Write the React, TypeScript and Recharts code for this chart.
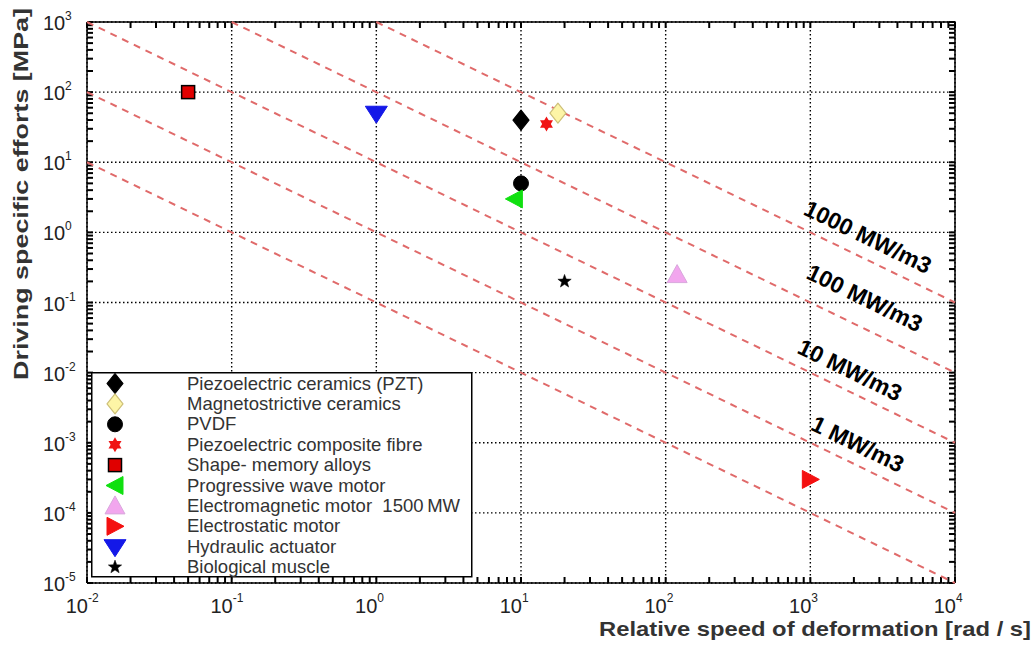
import React from "react";
import { ScatterChart, Scatter, XAxis, YAxis, CartesianGrid } from "recharts";

/* axis decades and minor ticks */
const X_DECADES = [0.01, 0.1, 1, 10, 100, 1000, 10000];
const Y_DECADES = [1e-5, 1e-4, 1e-3, 1e-2, 1e-1, 1, 10, 100, 1000];
const MINOR_STEPS = [1, 2, 3, 4, 5, 6, 7, 8, 9];
const minorTicks = (decs: number[]) =>
  decs.slice(0, -1).flatMap((d) => MINOR_STEPS.map((m) => m * d)).concat(decs[decs.length - 1]);
const X_MINOR = minorTicks(X_DECADES);
const Y_MINOR = minorTicks(Y_DECADES);

/* materials: speed [rad/s] vs specific effort [MPa] */
const MATERIALS = [
  "Piezoelectric ceramics (PZT)",
  "Magnetostrictive ceramics",
  "PVDF",
  "Piezoelectric composite fibre",
  "Shape- memory alloys",
  "Progressive wave motor",
  "Electromagnetic motor\u00a0 1500\u2009MW",
  "Electrostatic motor",
  "Hydraulic actuator",
  "Biological muscle",
];
const SPEED = [10, 18, 10, 15, 0.05, 9, 120, 1000, 1, 20];
const EFFORT = [40, 50, 5, 35, 100, 3, 0.25, 0.0003, 50, 0.2];

/* iso-power lines (MW/m3) — end points */
const POWER_LABELS = ["1000 MW/m3", "100 MW/m3", "10 MW/m3", "1 MW/m3", ""];
const LINE_X0 = [1, 0.1, 0.01, 0.01, 0.01];
const LINE_Y0 = [1000, 1000, 1000, 100, 10];
const LINE_X1 = [10000, 10000, 10000, 10000, 10000];
const LINE_Y1 = [0.1, 0.01, 0.001, 0.0001, 0.00001];
const LABEL_X = [2500, 2380, 1880, 2130];
const LABEL_Y = [0.86, 0.116, 0.0109, 0.00096];

const MARKER_STYLE = [
  { kind: "diamond", fill: "#000", stroke: "#000" },
  { kind: "diamond", fill: "#fdf5a6", stroke: "#cdbf78" },
  { kind: "circle", fill: "#000", stroke: "#000" },
  { kind: "hexagram", fill: "#f01414", stroke: "#f01414" },
  { kind: "square", fill: "#e00000", stroke: "#000" },
  { kind: "triLeft", fill: "#10e010", stroke: "#10e010" },
  { kind: "triUp", fill: "#f2a6ee", stroke: "#d8a8dc" },
  { kind: "triRight", fill: "#f41010", stroke: "#f41010" },
  { kind: "triDown", fill: "#1418e8", stroke: "#1418e8" },
  { kind: "star", fill: "#000", stroke: "#000" },
];

const FONT = '"Liberation Sans", Arial, Helvetica, sans-serif';
const LINE_RED = "#e06a6a";
const X_MIN = X_DECADES[0];
const X_MAX = X_DECADES[X_DECADES.length - 1];
const Y_MIN = Y_DECADES[0];
const Y_MAX = Y_DECADES[Y_DECADES.length - 1];

/* series tables built once from the arrays above */
const LINES = POWER_LABELS.map((_, i) => [
  { x: LINE_X0[i], y: LINE_Y0[i] },
  { x: LINE_X1[i], y: LINE_Y1[i] },
]);
const LABELS = LABEL_X.map((x, i) => ({ x, y: LABEL_Y[i], text: POWER_LABELS[i] }));
const POINTS = MATERIALS.map((_, i) => [{ x: SPEED[i], y: EFFORT[i] }]);
const FRAME = [
  { x: X_MIN, y: Y_MAX },
  { x: X_MAX, y: Y_MAX },
  { x: X_MAX, y: Y_MIN },
];
const TICKS_BOTTOM = X_MINOR.map((x) => ({ x, y: Y_MIN }));
const TICKS_TOP = X_MINOR.map((x) => ({ x, y: Y_MAX }));
const TICKS_LEFT = Y_MINOR.map((y) => ({ x: X_MIN, y }));
const TICKS_RIGHT = Y_MINOR.map((y) => ({ x: X_MAX, y }));

const pts = (arr: number[][]) => arr.map((p) => p.join(",")).join(" ");

function Marker({ kind, cx, cy, fill, stroke }: any) {
  switch (kind) {
    case "diamond":
      return <polygon points={pts([[cx, cy - 10], [cx + 8, cy], [cx, cy + 10], [cx - 8, cy]])} fill={fill} stroke={stroke} strokeWidth={1.2} strokeLinejoin="round" />;
    case "circle":
      return <circle cx={cx} cy={cy} r={7.5} fill={fill} stroke={stroke} />;
    case "hexagram": {
      const r = 7.5;
      const tri = (a0: number) =>
        [0, 120, 240].map((a) => [cx + r * Math.cos(((a + a0) * Math.PI) / 180), cy + r * Math.sin(((a + a0) * Math.PI) / 180)]);
      return (
        <g fill={fill}>
          <polygon points={pts(tri(-90))} />
          <polygon points={pts(tri(90))} />
        </g>
      );
    }
    case "square":
      return <rect x={cx - 6.5} y={cy - 6.5} width={13} height={13} fill={fill} stroke={stroke} strokeWidth={1.5} />;
    case "triLeft":
      return <polygon points={pts([[cx - 9, cy], [cx + 8, cy - 9], [cx + 8, cy + 9]])} fill={fill} stroke={stroke} />;
    case "triRight":
      return <polygon points={pts([[cx + 9, cy], [cx - 8, cy - 9], [cx - 8, cy + 9]])} fill={fill} stroke={stroke} />;
    case "triUp":
      return <polygon points={pts([[cx, cy - 10], [cx + 10, cy + 8], [cx - 10, cy + 8]])} fill={fill} stroke={stroke} />;
    case "triDown":
      return <polygon points={pts([[cx - 11, cy - 7], [cx + 11, cy - 7], [cx, cy + 10]])} fill={fill} stroke={stroke} />;
    case "star": {
      const p: number[][] = [];
      for (let i = 0; i < 10; i++) {
        const r = i % 2 === 0 ? 7 : 2.9;
        const a = ((-90 + i * 36) * Math.PI) / 180;
        p.push([cx + r * Math.cos(a), cy + r * Math.sin(a)]);
      }
      return <polygon points={pts(p)} fill={fill} stroke={stroke} strokeWidth={0.5} />;
    }
    default:
      return null;
  }
}

const XTick = (p: any) => {
  const e = Math.round(Math.log10(p.payload.value));
  return (
    <g fontFamily={FONT} fill="#222">
      <text x={p.x + 1} y={p.y + 30} textAnchor="end" fontSize={20}>10</text>
      <text x={p.x + 1} y={p.y + 19} textAnchor="start" fontSize={12}>{e}</text>
    </g>
  );
};

const YTick = (p: any) => {
  const e = Math.round(Math.log10(p.payload.value));
  return (
    <g fontFamily={FONT} fill="#222">
      <text x={p.x - 44} y={p.y + 8} textAnchor="start" fontSize={20}>10</text>
      <text x={p.x - 22} y={p.y - 2} textAnchor="start" fontSize={12}>{e}</text>
    </g>
  );
};

/* inward minor tick marks on the frame */
const TickMark = ({ cx, cy, dx, dy }: any) => (
  <path d={`M${cx},${cy}l${dx},${dy}`} stroke="#000" strokeWidth={2} fill="none" />
);

const LabelShape = (p: any) => (
  <text
    x={p.cx}
    y={p.cy}
    transform={`rotate(26 ${p.cx} ${p.cy})`}
    textAnchor="middle"
    dominantBaseline="central"
    fontSize={23}
    fontWeight="bold"
    fill="#000"
    fontFamily={FONT}
  >
    {p.payload.text}
  </text>
);

const markerShapes = MARKER_STYLE.map((st) => (p: any) => <Marker {...st} cx={p.cx} cy={p.cy} />);
const noPoint = () => <g />;

export default function App() {
  return (
    <div style={{ position: "absolute", left: 0, top: 0, width: 1036, height: 646, background: "#fff" }}>
      <ScatterChart width={1036} height={646} margin={{ top: 22, right: 81, bottom: 23, left: 27 }}>
        <CartesianGrid stroke="#000" strokeDasharray="1.5 2.5" strokeWidth={1.4} />
        <XAxis dataKey="x" type="number" scale="log" domain={[X_MIN, X_MAX]}
          ticks={X_DECADES} interval={0} height={40} tickSize={0} tickMargin={0}
          axisLine={{ stroke: "#000", strokeWidth: 1.5 }} tickLine={false} tick={<XTick />} />
        <YAxis dataKey="y" type="number" scale="log" domain={[Y_MIN, Y_MAX]}
          ticks={Y_DECADES} interval={0} width={60} tickSize={0} tickMargin={0}
          axisLine={{ stroke: "#000", strokeWidth: 1.5 }} tickLine={false} tick={<YTick />} />

        {/* frame: top and right edges plus inward minor ticks */}
        <Scatter data={FRAME} isAnimationActive={false} line={{ stroke: "#000", strokeWidth: 1.5 }} shape={noPoint} />
        <Scatter data={TICKS_BOTTOM} isAnimationActive={false} shape={<TickMark dx={0} dy={-6} />} />
        <Scatter data={TICKS_TOP} isAnimationActive={false} shape={<TickMark dx={0} dy={6} />} />
        <Scatter data={TICKS_LEFT} isAnimationActive={false} shape={<TickMark dx={6} dy={0} />} />
        <Scatter data={TICKS_RIGHT} isAnimationActive={false} shape={<TickMark dx={-6} dy={0} />} />

        {LINES.map((d, i) => (
          <Scatter key={`line${i}`} data={d} isAnimationActive={false}
            line={{ stroke: LINE_RED, strokeWidth: 2, strokeDasharray: "7 6" }} shape={noPoint} />
        ))}
        <Scatter data={LABELS} isAnimationActive={false} shape={<LabelShape />} />

        {MATERIALS.map((name, i) => (
          <Scatter key={name} name={name} data={POINTS[i]} isAnimationActive={false} shape={markerShapes[i]} />
        ))}
      </ScatterChart>

      <svg width={1036} height={646} style={{ position: "absolute", left: 0, top: 0, pointerEvents: "none" }}>
        {/* legend */}
        <g transform="translate(91 372)">
          <rect x={0.75} y={0.75} width={380} height={204} fill="#fff" stroke="#000" strokeWidth={1.5} />
          {MATERIALS.map((name, i) => {
            const cy = 11.5 + i * 20.4;
            return (
              <g key={name}>
                <Marker {...MARKER_STYLE[i]} cx={24} cy={cy} />
                <text x={96} y={cy + 6} fontSize={18.5} fill="#333" fontFamily={FONT}>{name}</text>
              </g>
            );
          })}
        </g>
        <text x={1031} y={636} textAnchor="end" fontSize={21} fontWeight="bold" fill="#333" fontFamily={FONT}
          textLength={432} lengthAdjust="spacingAndGlyphs">
          Relative speed of deformation [rad / s]
        </text>
        <text transform="translate(28 194) rotate(-90)" textAnchor="middle" fontSize={21} fontWeight="bold" fill="#333"
          fontFamily={FONT} textLength={372} lengthAdjust="spacingAndGlyphs">
          Driving specific efforts  [MPa]
        </text>
      </svg>
    </div>
  );
}
